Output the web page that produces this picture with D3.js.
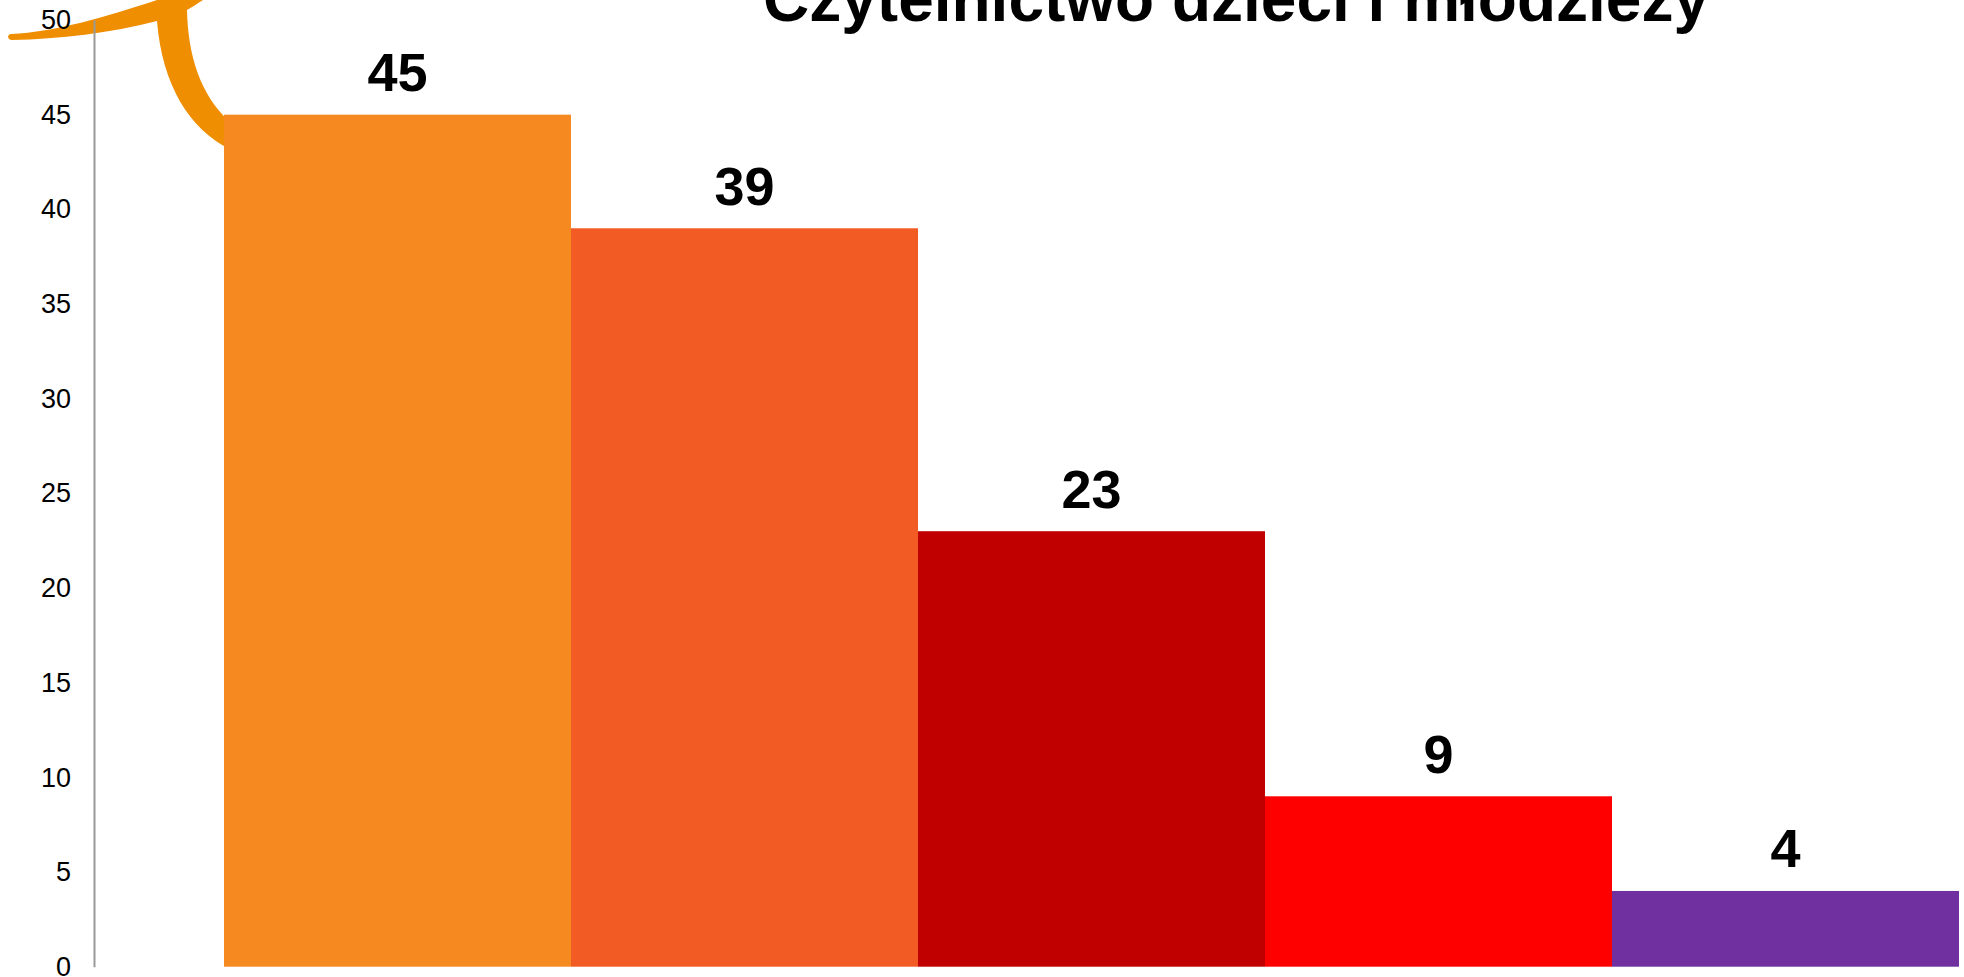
<!DOCTYPE html>
<html>
<head>
<meta charset="utf-8">
<script src="https://cdn.jsdelivr.net/npm/d3@7"></script>
<style>
  html, body { margin: 0; padding: 0; background: #fff; overflow: hidden; }
  text { font-family: "Liberation Sans", Arial, sans-serif; fill: #000; }
</style>
</head>
<body>
<script>
const titleText = "Czytelnictwo dzieci i młodzieży";
const categories = ["A", "B", "C", "D", "E"];
const values = [45, 39, 23, 9, 4];
const barColors = ["#F6891F", "#F25C24", "#C00000", "#FF0000", "#7030A0"];
const yTicks = [0, 5, 10, 15, 20, 25, 30, 35, 40, 45, 50];

const width = 1964;
const height = 977;
const margin = { top: 20, right: 5, bottom: 10.3, left: 224 };

const svg = d3.select("body").append("svg")
  .attr("width", width)
  .attr("height", height)
  .style("display", "block");

const x = d3.scaleBand()
  .domain(categories)
  .range([margin.left, width - margin.right])
  .padding(0);

const y = d3.scaleLinear()
  .domain([0, 50])
  .range([height - margin.bottom, margin.top]);

// orange swoosh from the slide behind the chart
svg.append("path")
  .attr("fill", "#EF8E00")
  .attr("d", "M11,34 C55,32 105,17 157,0 L203,0 C197,4 192,7 187,10 C188,55 200,95 230,122 L230,149 C190,130 162,85 157,21 C110,33 60,39 12,40 C7,40 7,34 11,34 Z");

const axis = svg.append("g")
  .attr("transform", "translate(94,0)")
  .call(d3.axisLeft(y).tickValues(yTicks).tickSize(0).tickPadding(23).tickFormat(d3.format("d")));

axis.select(".domain")
  .attr("stroke", "#999")
  .attr("stroke-width", 2);

axis.selectAll("text")
  .style("font-family", "'Liberation Sans', Arial, sans-serif")
  .style("font-size", "27px")
  .style("fill", "#000");

svg.append("g")
  .selectAll("rect")
  .data(values)
  .join("rect")
  .attr("x", (d, i) => x(categories[i]))
  .attr("y", d => y(d))
  .attr("width", x.bandwidth())
  .attr("height", d => y(0) - y(d))
  .attr("fill", (d, i) => barColors[i]);

svg.append("g")
  .selectAll("text")
  .data(values)
  .join("text")
  .attr("x", (d, i) => x(categories[i]) + x.bandwidth() / 2)
  .attr("y", d => y(d) - 23.5)
  .attr("text-anchor", "middle")
  .style("font-size", "54px")
  .style("font-weight", "bold")
  .text(d => d);

svg.append("text")
  .attr("x", 1236)
  .attr("y", 21)
  .attr("text-anchor", "middle")
  .style("font-size", "64px")
  .style("font-weight", "bold")
  .text(titleText);
</script>
</body>
</html>
